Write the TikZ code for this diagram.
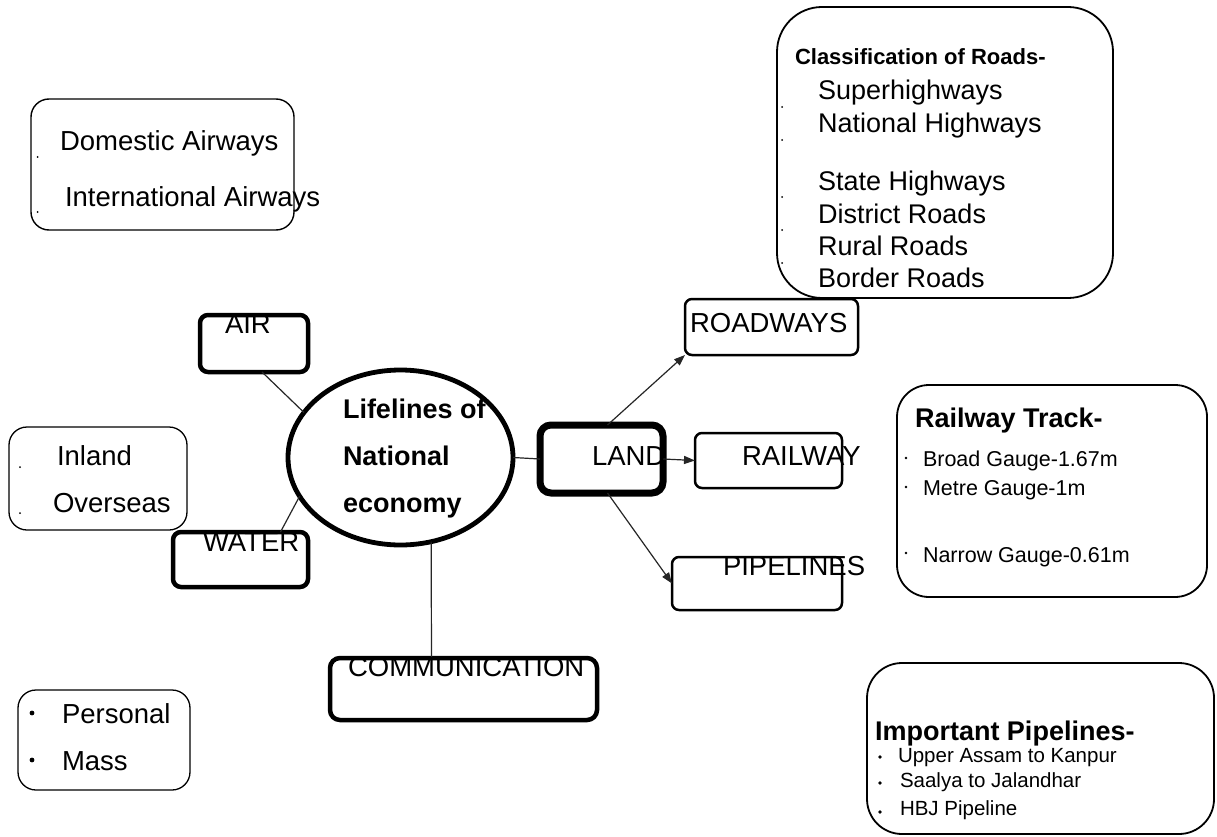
\documentclass[tikz,border=0pt]{standalone}
\usepackage{fontspec}
\setmainfont{Liberation Sans}
\usetikzlibrary{arrows.meta,shapes.geometric}
\tikzset{
  box/.style={draw=black, rectangle, inner sep=0pt, outer sep=0pt, fill=none},
  thinbox/.style={box, line width=1.4pt, rounded corners=18pt},
  bigbox/.style={box, line width=1.8pt},
  heavybox/.style={box, line width=4.5pt, rounded corners=8pt},
  midbox/.style={box, line width=2.5pt, rounded corners=7pt},
  txt/.style={inner sep=0pt, outer sep=0pt, anchor=base west, font=\fontsize{27.5}{30}\selectfont},
  btxt/.style={txt, font=\fontsize{27}{30}\selectfont\bfseries},
  rtxt/.style={txt, font=\fontsize{27}{30}\selectfont},
  stxt/.style={txt, font=\fontsize{21.5}{24}\selectfont},
  ptxt/.style={txt, font=\fontsize{20.5}{24}\selectfont},
  conn/.style={line width=1.2pt, draw=black!85},
  arr/.style={conn, -{Triangle[length=11pt,width=8pt]}}
}
\begin{document}
\begin{tikzpicture}[x=1pt,y=-1pt]
\useasboundingbox (0,0) rectangle (1217,837);
\fill[white] (0,0) rectangle (1217,837);

% boxes
\node[thinbox, minimum width=263pt, minimum height=131pt] (airways) at (162.5,164.5) {};
\node[bigbox, rounded corners=45pt, minimum width=336pt, minimum height=291pt] (roads) at (945,152.5) {};
\node[heavybox, minimum width=108pt, minimum height=57pt] (air) at (254,343.5) {};
\node[thinbox, line width=1.3pt, minimum width=178pt, minimum height=103pt] (inland) at (98,478.5) {};
\node[heavybox, minimum width=135pt, minimum height=55pt] (water) at (240.5,559.5) {};
\node[heavybox, rounded corners=10pt, minimum width=267pt, minimum height=62pt] (comm) at (463.5,689) {};
\node[thinbox, line width=1.3pt, minimum width=172pt, minimum height=100pt] (personal) at (104,740) {};
\node[box, line width=7pt, rounded corners=11pt, minimum width=123pt, minimum height=68pt] (land) at (601.5,459) {};
\node[midbox, minimum width=173pt, minimum height=56pt] (roadways) at (771.5,327) {};
\node[midbox, minimum width=147pt, minimum height=55pt] (railway) at (768.5,460.5) {};
\node[midbox, minimum width=170pt, minimum height=53pt] (pipelines) at (757,583.5) {};
\node[bigbox, rounded corners=32pt, minimum width=310pt, minimum height=212pt] (track) at (1052,491) {};
\node[bigbox, rounded corners=35pt, minimum width=347pt, minimum height=171pt] (imp) at (1040.5,748.5) {};
\node[draw=black, ellipse, line width=4.8pt, inner sep=0pt, outer sep=0pt, minimum width=225pt, minimum height=175pt] (ell) at (400.5,457.5) {};

% connectors
\draw[conn] ([xshift=8pt]air.south) -- (ell.155);
\draw[conn] ([xshift=40pt]water.north) -- (ell.201);
\draw[conn] (ell.290) -- ([xshift=-32pt]comm.north);
\draw[conn] (ell.east) -- (land.west);
\draw[arr] ([xshift=6pt]land.north) -- (roadways.south west);
\draw[arr] (land.east) -- (railway.west);
\draw[arr] ([xshift=6pt]land.south) -- (pipelines.west);

% texts
\node[txt] (t1) at (60,151) {Domestic Airways};
\node[txt] (t2) at (65,207) {International Airways};
\fill (37.7,157) circle (1pt) (37.7,212) circle (1pt);

\node[txt, font=\fontsize{22}{26}\selectfont\bfseries] (r0) at (795,65) {Classification of Roads-};
\node[rtxt] (r1) at (818,100) {Superhighways};
\node[rtxt] (r2) at (818,133) {National Highways};
\node[rtxt] (r3) at (818,190) {State Highways};
\node[rtxt] (r4) at (818,223) {District Roads};
\node[rtxt] (r5) at (818,255) {Rural Roads};
\node[rtxt] (r6) at (818,287) {Border Roads};
\foreach \yy in {107,140,197,230,263} \fill (782,\yy) circle (1pt);

\node[txt] (tair) at (225,333) {AIR};
\node[btxt] (l1) at (343,418) {Lifelines of};
\node[btxt] (l2) at (343,465) {National};
\node[btxt] (l3) at (343,512) {economy};

\node[txt] (ti) at (57,465) {Inland};
\node[txt] (to) at (53,512) {Overseas};
\fill (20,467) circle (1pt) (20,513) circle (1pt);

\node[txt] (tw) at (203,551) {WATER};
\node[txt] (tc) at (348,676) {COMMUNICATION};
\node[txt] (tl) at (592,465) {LAND};
\node[txt] (trd) at (690,332) {ROADWAYS};
\node[txt] (trl) at (742,465) {RAILWAY};
\node[txt] (tp) at (723,575) {PIPELINES};

\node[btxt] (k0) at (915,427) {Railway Track-};
\node[stxt] (k1) at (923,466) {Broad Gauge-1.67m};
\node[stxt] (k2) at (923,495) {Metre Gauge-1m};
\node[stxt] (k3) at (923,562) {Narrow Gauge-0.61m};
\fill (906,458) circle (1.4pt) (906,487) circle (1.4pt) (906,553) circle (1.4pt);

\node[btxt, font=\fontsize{27}{30}\selectfont\bfseries] (p0) at (875,740) {Important Pipelines-};
\node[ptxt] (p1) at (898,762) {Upper Assam to Kanpur};
\node[ptxt] (p2) at (900,787) {Saalya to Jalandhar};
\node[ptxt] (p3) at (900,815) {HBJ Pipeline};
\fill (880,757) circle (1.8pt) (880,783) circle (1.8pt) (880,812) circle (1.8pt);

\node[txt] (m1) at (62,723) {Personal};
\node[txt] (m2) at (62,770) {Mass};
\fill (32,713) circle (2.4pt) (32,760) circle (2.4pt);
\end{tikzpicture}
\end{document}
